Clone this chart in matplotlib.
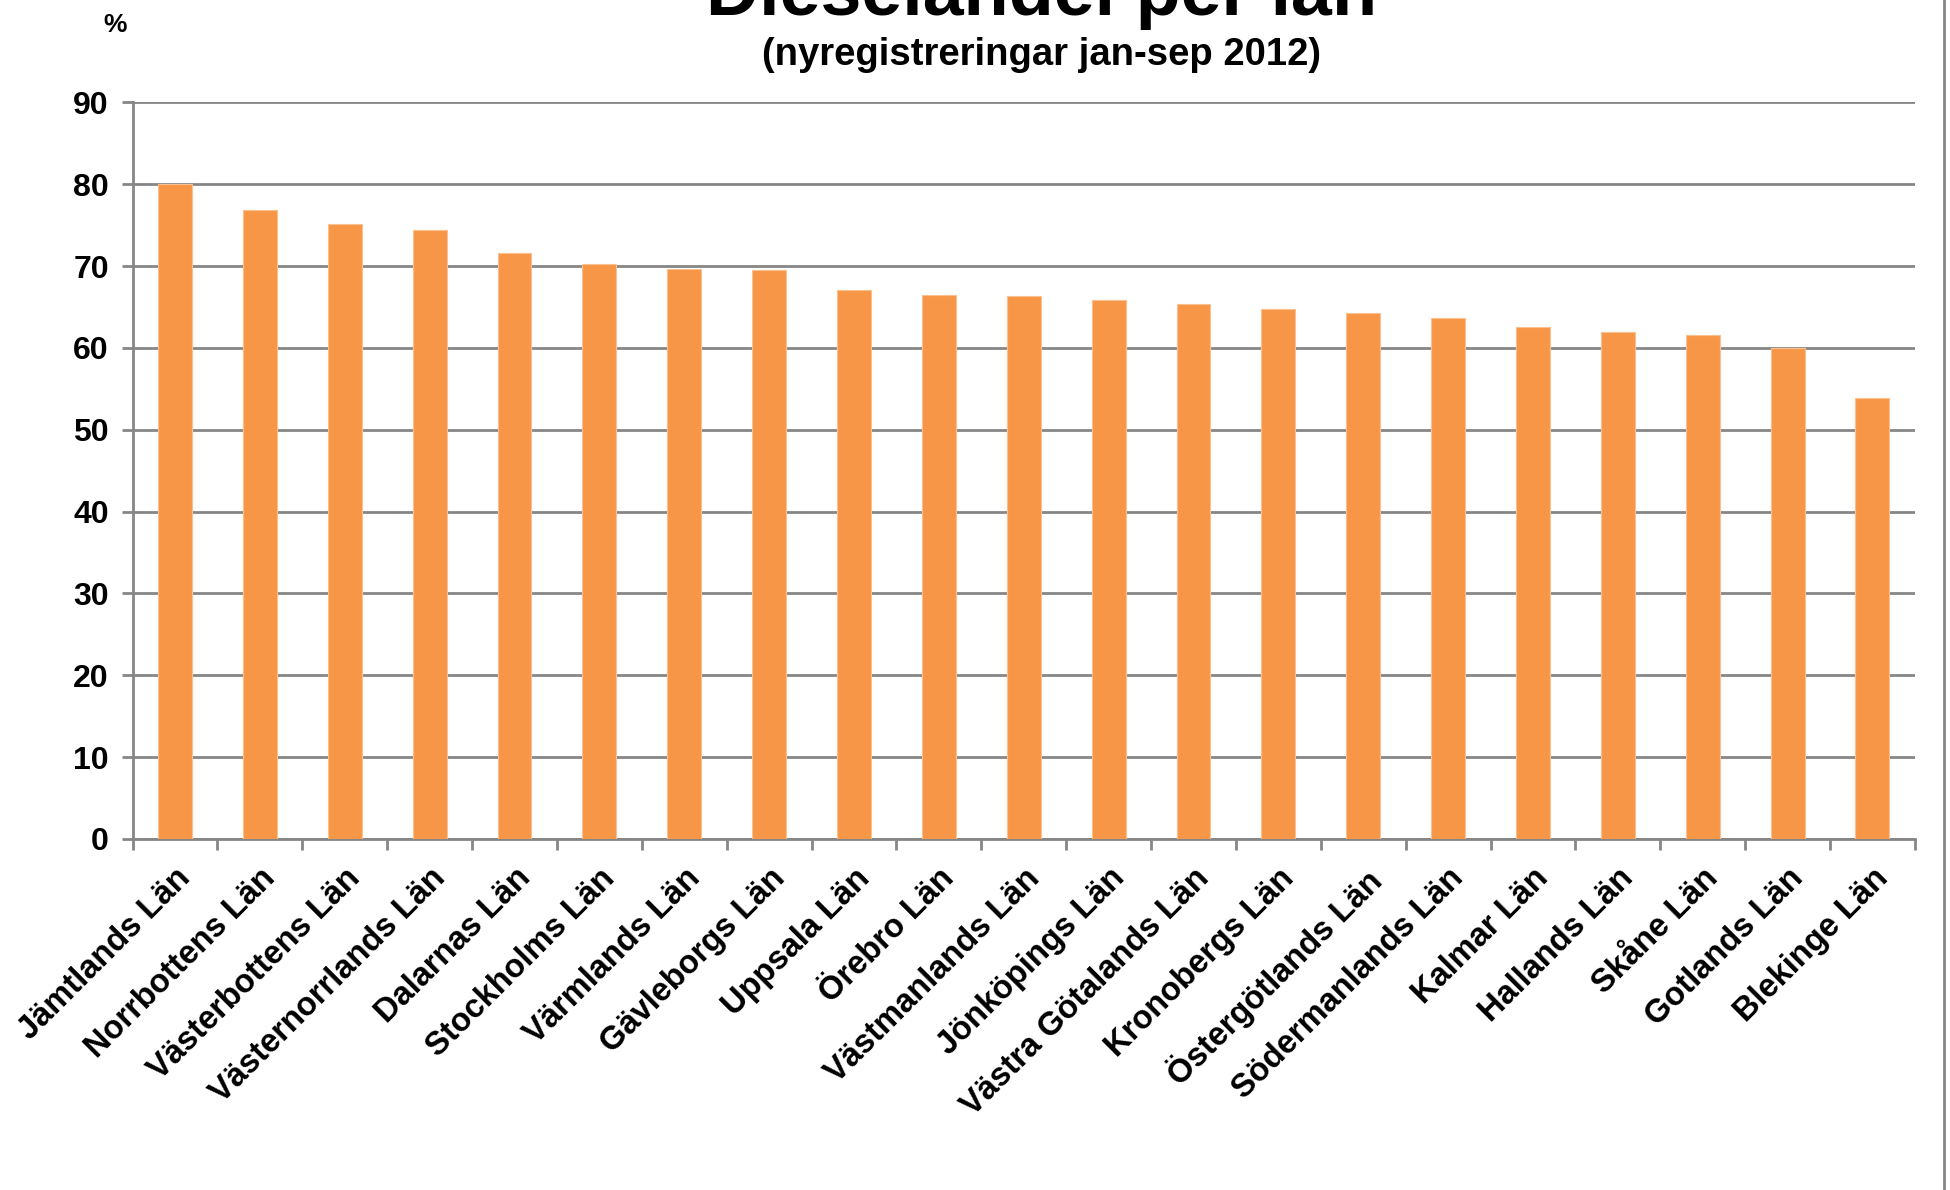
import numpy as np
import matplotlib
matplotlib.use("Agg")
import matplotlib.pyplot as plt
from matplotlib.lines import Line2D

# diesel share of new registrations per county, jan-sep 2012 (%)
counties = ["Jämtlands Län", "Norrbottens Län", "Västerbottens Län",
            "Västernorrlands Län", "Dalarnas Län", "Stockholms Län",
            "Värmlands Län", "Gävleborgs Län", "Uppsala Län", "Örebro Län",
            "Västmanlands Län", "Jönköpings Län", "Västra Götalands Län",
            "Kronobergs Län", "Östergötlands Län", "Södermanlands Län",
            "Kalmar Län", "Hallands Län", "Skåne Län", "Gotlands Län",
            "Blekinge Län"]
diesel_share = [80.0, 76.9, 75.1, 74.4, 71.6, 70.3, 69.6, 69.5, 67.1, 66.5,
                66.3, 65.8, 65.3, 64.7, 64.3, 63.6, 62.6, 62.0, 61.6, 60.0,
                53.9]
yticks = [0, 10, 20, 30, 40, 50, 60, 70, 80, 90]

plt.rcParams['font.family'] = ['Liberation Sans', 'DejaVu Sans']
plt.rcParams['font.weight'] = 'bold'

grey = "#868686"

fig = plt.figure(figsize=(19.5, 11.9), dpi=100)
ax = fig.add_axes([0.068, 0.295, 0.914, 0.619])

x = np.arange(len(counties))
ax.bar(x, diesel_share, width=0.4, color="#F79646", edgecolor="#FAC090",
       linewidth=0.8, zorder=3)

ax.set_xlim(-0.5, len(counties) - 0.5)
ax.set_ylim(0, 90)
ax.set_yticks(yticks)
ax.set_yticklabels([str(v) for v in yticks], fontsize=23, fontweight='bold')
ax.yaxis.grid(True, color=grey, linewidth=2, zorder=0)

ax.set_xticks(x)
ax.set_xticklabels(counties, fontsize=23.5, fontweight='bold', rotation=45,
                   ha='right', va='top', rotation_mode='anchor')
ax.set_xticks(np.arange(-0.5, len(counties)), minor=True)
ax.tick_params(axis='x', which='major', length=0, pad=17)
ax.tick_params(axis='x', which='minor', length=8, width=2, color=grey)
ax.tick_params(axis='y', length=8, width=2, color=grey, pad=9)

for side in ["top", "right"]:
    ax.spines[side].set_visible(False)
for side in ["left", "bottom"]:
    ax.spines[side].set_color(grey)
    ax.spines[side].set_linewidth(2)

fig.text(0.534, 0.987, "Dieselandel per län", ha='center', va='baseline',
         fontsize=53, fontweight='bold')
fig.text(0.534, 0.945, "(nyregistreringar jan-sep 2012)", ha='center',
         va='baseline', fontsize=27.5, fontweight='bold')
fig.text(0.059, 0.973, "%", ha='center', va='baseline', fontsize=19,
         fontweight='bold')

# chart area border on the right edge
fig.add_artist(Line2D([0.997, 0.997], [0, 1], color=grey, linewidth=2,
                      transform=fig.transFigure))

fig.savefig("out.png", dpi=100, facecolor="white")
